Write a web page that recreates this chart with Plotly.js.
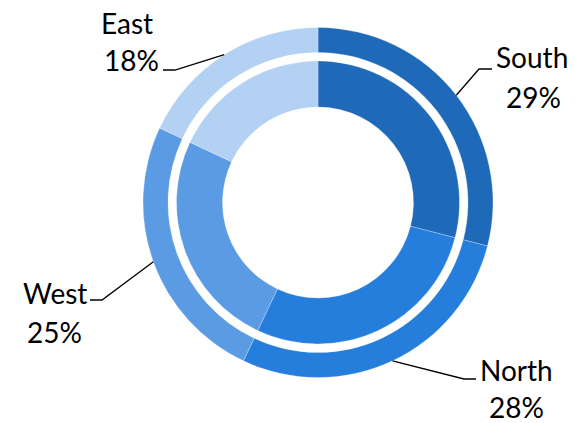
<!DOCTYPE html>
<html>
<head>
<meta charset="utf-8">
<script src="https://cdn.plot.ly/plotly-3.0.1.min.js"></script>
<style>
  html, body { margin: 0; padding: 0; background: #ffffff; }
  #chart { width: 583px; height: 423px; }
</style>
</head>
<body>
<div id="chart"></div>
<script>
// ---- data ----
const regions = ['South', 'North', 'West', 'East'];
const outerValues = [29, 28, 25, 18];
const innerValues = [29, 28, 25, 18];
const sliceColors = ['#1F6AB8', '#267EDC', '#5A9BE3', '#B3D1F2'];

// ---- layout constants (pixels) ----
const W = 583, H = 423;
const CX = 318, CY = 202.5;
const R_OUT = 175, R_OUT_HOLE = 150;
const R_IN = 141.5, R_IN_HOLE = 95.5;

// label placement (pixel positions, style only)
const labelLayout = {
  South: { elbow: [479, 69], end: 492, name: [532, 57], pct: [533, 97] },
  North: { elbow: [464, 379], end: 476, name: [516, 370], pct: [516, 407] },
  West:  { elbow: [102, 300], end: 90,  name: [55, 293],  pct: [54, 332] },
  East:  { elbow: [175, 70],  end: 163, name: [127, 23],  pct: [131, 60] }
};

const px = x => x / W;
const py = y => 1 - y / H;

function domainFor(r) {
  return {
    x: [px(CX - r), px(CX + r)],
    y: [py(CY + r), py(CY - r)]
  };
}

const outer = {
  type: 'pie',
  values: outerValues,
  labels: regions,
  sort: false,
  direction: 'clockwise',
  rotation: 0,
  hole: R_OUT_HOLE / R_OUT,
  domain: domainFor(R_OUT),
  marker: { colors: sliceColors, line: { color: 'rgba(255,255,255,0.5)', width: 0.5 } },
  textinfo: 'none',
  hoverinfo: 'none',
  showlegend: false
};

const inner = {
  type: 'pie',
  values: innerValues,
  labels: regions,
  sort: false,
  direction: 'clockwise',
  rotation: 0,
  hole: R_IN_HOLE / R_IN,
  domain: domainFor(R_IN),
  marker: { colors: sliceColors, line: { color: 'rgba(255,255,255,0.5)', width: 0.5 } },
  textinfo: 'none',
  hoverinfo: 'none',
  showlegend: false
};

// leader lines & labels derived from the outer ring data
const total = outerValues.reduce((a, b) => a + b, 0);
const shapes = [];
const annotations = [];
let cum = 0;
outerValues.forEach((v, i) => {
  const mid = (cum + v / 2) / total * 2 * Math.PI;
  cum += v;
  const sx = CX + R_OUT * Math.sin(mid);
  const sy = CY - R_OUT * Math.cos(mid);
  const L = labelLayout[regions[i]];
  const path = 'M ' + px(sx) + ',' + py(sy) +
               ' L ' + px(L.elbow[0]) + ',' + py(L.elbow[1]) +
               ' L ' + px(L.end) + ',' + py(L.elbow[1]);
  shapes.push({
    type: 'path', xref: 'paper', yref: 'paper', path: path,
    line: { color: '#000000', width: 1.3 }
  });
  const font = { family: 'Lato, "Open Sans", sans-serif', size: 28, color: '#000000' };
  annotations.push({
    xref: 'paper', yref: 'paper', x: px(L.name[0]), y: py(L.name[1]),
    xanchor: 'center', yanchor: 'middle', showarrow: false,
    text: regions[i], font: font
  });
  annotations.push({
    xref: 'paper', yref: 'paper', x: px(L.pct[0]), y: py(L.pct[1]),
    xanchor: 'center', yanchor: 'middle', showarrow: false,
    text: Math.round(v / total * 100) + '%', font: font
  });
});

const layout = {
  width: W, height: H,
  margin: { l: 0, r: 0, t: 0, b: 0, pad: 0 },
  paper_bgcolor: '#ffffff',
  plot_bgcolor: '#ffffff',
  showlegend: false,
  shapes: shapes,
  annotations: annotations
};

Plotly.newPlot('chart', [outer, inner], layout, { staticPlot: true, displayModeBar: false });
</script>
</body>
</html>
